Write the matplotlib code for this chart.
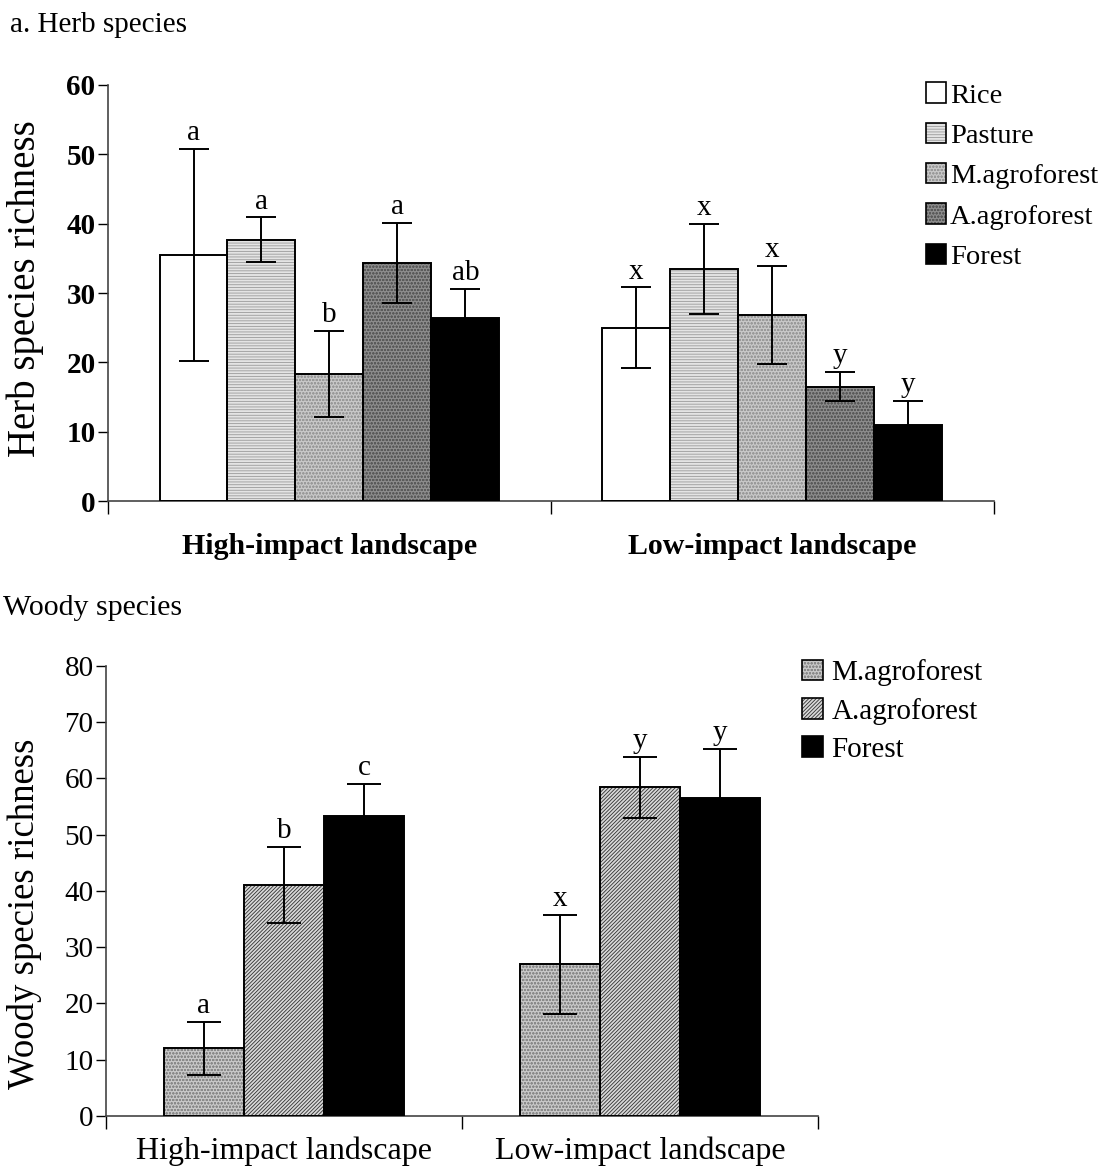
import numpy as np
import matplotlib
matplotlib.use("Agg")
import matplotlib.pyplot as plt
from matplotlib.patches import Patch

# ── Data ─────────────────────────────────────────────────────────────────────
landscapes = ["High-impact landscape", "Low-impact landscape"]

herb_types = ["Rice", "Pasture", "M.agroforest", "A.agroforest", "Forest"]
herb_high = [35.5, 37.7, 18.3, 34.3, 26.4]
herb_high_err = [15.3, 3.2, 6.2, 5.8, 4.2]
herb_high_letters = ["a", "a", "b", "a", "ab"]
herb_low = [25.0, 33.5, 26.8, 16.5, 11.0]
herb_low_err = [5.8, 6.5, 7.1, 2.1, 3.4]
herb_low_letters = ["x", "x", "x", "y", "y"]

woody_types = ["M.agroforest", "A.agroforest", "Forest"]
woody_high = [12.0, 41.1, 53.3]
woody_high_err = [4.7, 6.8, 5.7]
woody_high_letters = ["a", "b", "c"]
woody_low = [27.0, 58.4, 56.5]
woody_low_err = [8.8, 5.5, 8.8]
woody_low_letters = ["x", "y", "y"]

# ── Styles: (facecolor, hatch, hatch colour) ─────────────────────────────────
HERB_STYLE = {
    "Rice":         ("white",   "",          "white"),
    "Pasture":      ("#e4e4e4", "------",    "#9a9a9a"),
    "M.agroforest": ("#c8c8c8", "ooooo",     "#9a9a9a"),
    "A.agroforest": ("#8c8c8c", "ooooo",     "#5a5a5a"),
    "Forest":       ("black",   "",          "black"),
}
WOODY_STYLE = {
    "M.agroforest": ("#c8c8c8", "ooooo",     "#8a8a8a"),
    "A.agroforest": ("#d8d8d8", "/" * 9,     "#303030"),
    "Forest":       ("black",   "",          "black"),
}

SERIF = "Liberation Serif"
plt.rcParams["font.family"] = SERIF
plt.rcParams["hatch.linewidth"] = 0.6


def hatched_bar(ax, x, h, w, style):
    fc, hatch, hc = style
    ax.bar(x, h, w, color=fc, hatch=hatch, edgecolor=hc, linewidth=0, zorder=2)
    ax.bar(x, h, w, fill=False, edgecolor="black", linewidth=1.4, zorder=3)


def legend_handle(style):
    fc, hatch, hc = style
    return (Patch(facecolor=fc, hatch=hatch, edgecolor=hc, linewidth=0),
            Patch(fill=False, edgecolor="black", linewidth=1.2))


def draw_panel(ax, types, styles, groups, width, ymax, ystep,
               tick_bold, cat_bold, cat_size, cat_pad, capsize):
    n = len(types)
    for g, (vals, errs, letters) in enumerate(groups):
        center = g + 0.5
        for i, t in enumerate(types):
            x = center + (i - (n - 1) / 2) * width
            hatched_bar(ax, x, vals[i], width, styles[t])
            ax.errorbar(x, vals[i], yerr=errs[i], fmt="none", ecolor="black",
                        elinewidth=1.4, capsize=capsize, capthick=1.4, zorder=4)
            ax.annotate(letters[i], (x, vals[i] + errs[i]), xytext=(0, 2),
                        textcoords="offset points", ha="center", va="bottom",
                        fontsize=21)

    ax.set_xlim(0, len(groups))
    ax.set_ylim(0, ymax)
    ax.set_yticks(np.arange(0, ymax + 1, ystep))
    ax.set_xticks(np.arange(0, len(groups) + 1))
    ax.set_xticklabels([])
    ax.set_xticks(np.arange(len(groups)) + 0.5, minor=True)
    ax.set_xticklabels(landscapes, minor=True, fontsize=cat_size,
                       fontweight="bold" if cat_bold else "normal")
    ax.tick_params(axis="x", which="minor", length=0, pad=cat_pad)
    ax.tick_params(axis="x", which="major", length=9, width=1, direction="out")
    ax.tick_params(axis="y", length=7, width=1, direction="out", pad=2)
    for lab in ax.get_yticklabels():
        lab.set_fontsize(21)
        lab.set_fontweight("bold" if tick_bold else "normal")
    for side in ("top", "right"):
        ax.spines[side].set_visible(False)
    for side in ("left", "bottom"):
        ax.spines[side].set_color("#444444")
        ax.spines[side].set_linewidth(1.2)


fig = plt.figure(figsize=(11.07, 11.72), dpi=100)

# ── Herb panel ───────────────────────────────────────────────────────────────
ax1 = fig.add_axes([0.0976, 0.5725, 0.800, 0.355])
draw_panel(ax1, herb_types, HERB_STYLE,
           [(herb_high, herb_high_err, herb_high_letters),
            (herb_low, herb_low_err, herb_low_letters)],
           width=0.1535, ymax=60, ystep=10, tick_bold=True, cat_bold=True,
           cat_size=21.5, cat_pad=23, capsize=11)
ax1.set_ylabel("Herb species richness", fontsize=28)
ax1.yaxis.label.set_va("center")
ax1.yaxis.set_label_coords(-0.0937, 0.51)
fig.text(10 / 1107, 1 - 25 / 1172, "a. Herb species", fontsize=21,
         va="center", ha="left")
fig.legend([legend_handle(HERB_STYLE[t]) for t in herb_types], herb_types,
           loc="upper left", bbox_to_anchor=(0.826, 0.9394), frameon=False,
           fontsize=20.5, handlelength=0.72, handleheight=0.72, handletextpad=0.12,
           labelspacing=0.5, borderaxespad=0)

# ── Woody panel ──────────────────────────────────────────────────────────────
ax2 = fig.add_axes([0.0958, 0.0478, 0.643, 0.384])
draw_panel(ax2, woody_types, WOODY_STYLE,
           [(woody_high, woody_high_err, woody_high_letters),
            (woody_low, woody_low_err, woody_low_letters)],
           width=0.225, ymax=80, ystep=10, tick_bold=False, cat_bold=False,
           cat_size=23, cat_pad=15, capsize=12)
ax2.set_ylabel("Woody species richness", fontsize=26.5)
ax2.yaxis.label.set_va("center")
ax2.yaxis.set_label_coords(-0.114, 0.45)
fig.text(3 / 1107, 1 - 608 / 1172, "Woody species", fontsize=21.5,
         va="center", ha="left")
fig.legend([legend_handle(WOODY_STYLE[t]) for t in woody_types], woody_types,
           loc="upper left", bbox_to_anchor=(0.7137, 0.4475), frameon=False,
           fontsize=21, handlelength=0.72, handleheight=0.72, handletextpad=0.3,
           labelspacing=0.4, borderaxespad=0)

fig.savefig("out.png", dpi=100)
